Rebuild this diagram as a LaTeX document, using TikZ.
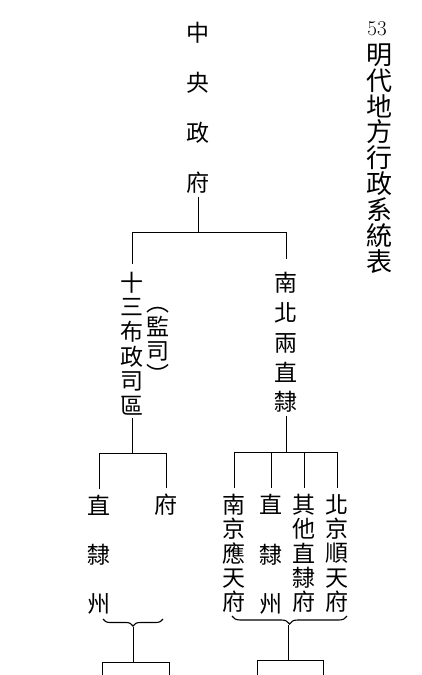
\documentclass[tikz,border=0pt]{standalone}
\usepackage{fontspec}
\newfontfamily\cjk{Noto Sans CJK TC}
\usetikzlibrary{decorations.pathreplacing}

\begin{document}
\begin{tikzpicture}[x=1pt,y=-1pt,
            line width=.6pt,
            col/.style={inner sep=0pt, align=center,
                font={\cjk\fontsize{23pt}{#1}\selectfont}},
            ttl/.style={inner sep=0pt, align=center,
                font={\cjk\fontsize{26pt}{25.9pt}\selectfont}},
            brc/.style={decorate, decoration={brace, mirror, amplitude=#1},
                line width=1.1pt},
            gap/.style={shorten >=#1}]
    \useasboundingbox (0,0) rectangle (421,675);

    % title
    \node[inner sep=0pt, font=\fontsize{21pt}{21pt}\selectfont] (num) at (377,28.5) {53};
    \node[ttl] (title) at (379,158.5) {明\\代\\地\\方\\行\\政\\系\\統\\表};

    \node[col=49.8pt] (zyzf) at (198,108) {中\\央\\政\\府};

    \node[col=24.6pt] (ssb) at (132,343.5) {十\\三\\布\\政\\司\\區};
    \node[col=24pt] (jsi) at (158,345) {︵\\監\\司\\︶};
    \node[col=29.75pt] (nbl) at (286,342.5) {南\\北\\兩\\直\\隸};

    \node[col=49pt] (zlz) at (99,555) {直\\隸\\州};
    \node[col=22pt] (fu) at (166,505) {府};

    \node[col=24.25pt] (njy) at (234,553.5) {南\\京\\應\\天\\府};
    \node[col=49.5pt] (zlz2) at (271,554.5) {直\\隸\\州};
    \node[col=24.25pt] (qt) at (304,553.5) {其\\他\\直\\隸\\府};
    \node[col=24.25pt] (bjs) at (337,553.5) {北\\京\\順\\天\\府};

    \coordinate (j1) at (198,232);
    \coordinate (j2) at (132,453);
    \coordinate (j3) at (286,452);

    \draw[shorten <=3pt] (zyzf.south) -- (j1);
    \draw[gap=8pt] (j1) -| (ssb.north);
    \draw[gap=13pt] (j1) -| (nbl.north);

    \draw[shorten <=3pt] (ssb.south) -- (j2);
    \draw[gap=6pt] (j2) -| (zlz.north);
    \draw[gap=6pt] (j2) -| (fu.north);

    \draw[shorten <=3pt] (nbl.south) -- (j3);
    \foreach \n in {njy,zlz2,qt,bjs}
        \draw[gap=6pt] (j3) -| (\n.north);

    % braces
    \coordinate (b1l) at (103,619);
    \coordinate (b1r) at (163,619);
    \coordinate (t1) at (133,627);
    \coordinate (j4) at (133,662);
    \coordinate (e1) at (102,675);
    \coordinate (e2) at (169,675);
    \draw[brc=7pt] (b1l) -- (b1r);
    \draw (t1) -- (j4);
    \draw (j4) -| (e1);
    \draw (j4) -| (e2);

    \coordinate (b2l) at (232,616);
    \coordinate (b2r) at (347,616);
    \coordinate (t2) at (288,625);
    \coordinate (j5) at (288,660);
    \coordinate (e3) at (257,675);
    \coordinate (e4) at (323,675);
    \draw[brc=8pt] (b2l) -- (b2r);
    \draw (t2) -- (j5);
    \draw (j5) -| (e3);
    \draw (j5) -| (e4);

\end{tikzpicture}
\end{document}
